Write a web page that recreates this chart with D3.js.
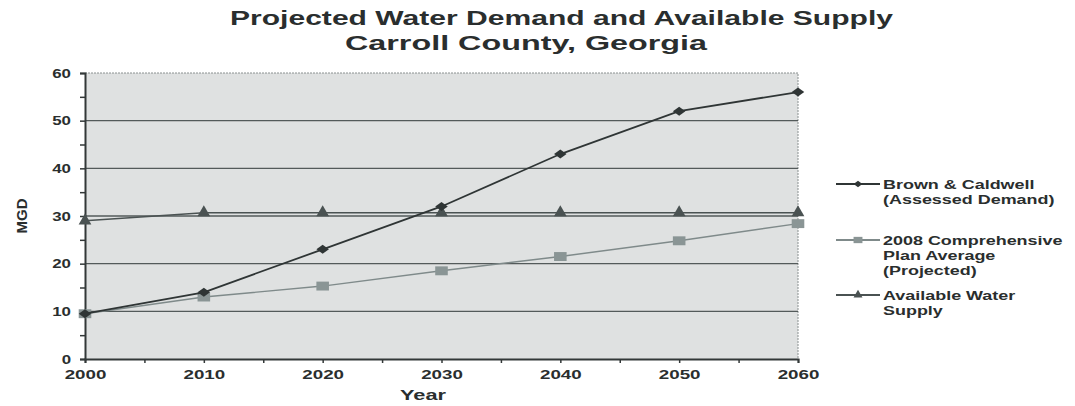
<!DOCTYPE html>
<html>
<head>
<script src="https://d3js.org/d3.v7.min.js"></script>
<style>
  body { margin: 0; background: #fff; font-family: "Liberation Sans", Arial, sans-serif; }
  svg text { fill: #2a2e2e; font-weight: bold; font-family: "Liberation Sans", Arial, sans-serif; }
</style>
</head>
<body>
<svg id="chart" width="1075" height="406"></svg>
<script>
// data
var years = [2000, 2010, 2020, 2030, 2040, 2050, 2060];
var brownCaldwell = [9.5, 14, 23, 32, 43, 52, 56];
var compPlan = [9.5, 13, 15.3, 18.5, 21.5, 24.8, 28.4];
var waterSupply = [29, 30.7, 30.7, 30.7, 30.7, 30.7, 30.7];
var yTicks = [0, 10, 20, 30, 40, 50, 60];
var seriesNames = [
    ["Brown & Caldwell", "(Assessed Demand)"],
    ["2008 Comprehensive", "Plan Average", "(Projected)"],
    ["Available Water", "Supply"]
];

var svg = d3.select("#chart");
var plotL = 85, plotR = 798, plotT = 73, plotB = 359;

var x = d3.scaleLinear().domain([2000, 2060]).range([plotL, plotR]);
var y = d3.scaleLinear().domain([0, 60]).range([plotB, plotT]);

// the scanned chart is stretched sideways, so widen the glyphs a bit
function stretch(sel, k) {
    sel.each(function() {
        var w = this.getComputedTextLength();
        if (w > 0) d3.select(this).attr("textLength", w * k).attr("lengthAdjust", "spacingAndGlyphs");
    });
}

// title
svg.append("text").attr("x", 230).attr("y", 25)
    .attr("font-size", 21).attr("textLength", 663).attr("lengthAdjust", "spacingAndGlyphs")
    .text("Projected Water Demand and Available Supply");
svg.append("text").attr("x", 345).attr("y", 50)
    .attr("font-size", 21).attr("textLength", 362).attr("lengthAdjust", "spacingAndGlyphs")
    .text("Carroll County, Georgia");

// plot background
svg.append("rect").attr("x", plotL).attr("y", plotT)
    .attr("width", plotR - plotL).attr("height", plotB - plotT)
    .attr("fill", "#dfe1e1");
svg.append("path")
    .attr("d", "M" + plotL + "," + plotT + "H" + plotR + "V" + plotB)
    .attr("fill", "none").attr("stroke", "#8a9090").attr("stroke-width", 1)
    .attr("stroke-dasharray", "2,1");

// gridlines
svg.append("g").selectAll("line")
    .data(yTicks.filter(function(d) { return d > 0 && d < 60; }))
    .enter().append("line")
    .attr("x1", plotL).attr("x2", plotR)
    .attr("y1", function(d) { return y(d); })
    .attr("y2", function(d) { return y(d); })
    .attr("stroke", "#535a5a").attr("stroke-width", 1.4);

// axes
var yAxis = svg.append("g").attr("transform", "translate(" + plotL + ",0)")
    .call(d3.axisLeft(y).tickValues(d3.range(0, 61, 5)).tickSize(5)
        .tickFormat(function(d) { return d % 10 === 0 ? d : ""; }));
var xAxis = svg.append("g").attr("transform", "translate(0," + plotB + ")")
    .call(d3.axisBottom(x).tickValues(d3.range(2000, 2061, 5)).tickSize(4)
        .tickFormat(function(d) { return d % 10 === 0 ? d : ""; }));
[yAxis, xAxis].forEach(function(a) {
    a.select(".domain").attr("stroke", "#333838").attr("stroke-width", 2);
    a.selectAll(".tick line").attr("stroke", "#333838").attr("stroke-width", 1.5);
    a.selectAll(".tick text").attr("font-size", 12.5).attr("font-family", null).attr("fill", "#2a2e2e");
});
yAxis.selectAll(".tick text").attr("x", -14);
xAxis.selectAll(".tick text").attr("y", 11);
stretch(yAxis.selectAll(".tick text"), 1.35);
stretch(xAxis.selectAll(".tick text"), 1.5);

// axis titles
svg.append("text").attr("transform", "translate(27,216) rotate(-90)")
    .attr("text-anchor", "middle").attr("font-size", 15).text("MGD");
var yearLabel = svg.append("text").attr("x", 423).attr("y", 400)
    .attr("text-anchor", "middle").attr("font-size", 15).text("Year");
stretch(yearLabel, 1.45);

// series
var series = [
    { values: brownCaldwell, color: "#2f3535", width: 1.8, marker: d3.symbolSquare, size: 50, mcolor: "#2f3535",
      shape: "scale(1.25,0.9) rotate(45)" },
    { values: compPlan, color: "#7f8a8a", width: 1.4, marker: d3.symbolSquare, size: 110, mcolor: "#8a9595",
      shape: "scale(1.2,0.85)" },
    { values: waterSupply, color: "#4a5252", width: 1.5, marker: d3.symbolTriangle, size: 70, mcolor: "#4a5252",
      shape: "" }
];
var line = d3.line()
    .x(function(d, i) { return x(years[i]); })
    .y(function(d) { return y(d); });

series.slice().reverse().forEach(function(s) {
    svg.append("path").datum(s.values).attr("d", line)
        .attr("fill", "none").attr("stroke", s.color).attr("stroke-width", s.width);
    svg.append("g").selectAll("path").data(s.values).enter().append("path")
        .attr("d", d3.symbol().type(s.marker).size(s.size))
        .attr("transform", function(d, i) {
            return "translate(" + x(years[i]) + "," + y(d) + ") " + s.shape;
        })
        .attr("fill", s.mcolor);
});

// legend
var legendY = [189, 245, 300];
series.forEach(function(s, k) {
    var g = svg.append("g").attr("transform", "translate(836," + legendY[k] + ")");
    g.append("line").attr("x1", 0).attr("x2", 44).attr("y1", -5).attr("y2", -5)
        .attr("stroke", s.color).attr("stroke-width", 2);
    g.append("path").attr("d", d3.symbol().type(s.marker).size(s.size * 0.5))
        .attr("transform", "translate(22,-5) " + s.shape).attr("fill", s.mcolor);
    seriesNames[k].forEach(function(t, j) {
        var tx = g.append("text").attr("x", 47).attr("y", j * 15)
            .attr("font-size", 13).text(t);
        stretch(tx, 1.38);
    });
});
</script>
</body>
</html>
